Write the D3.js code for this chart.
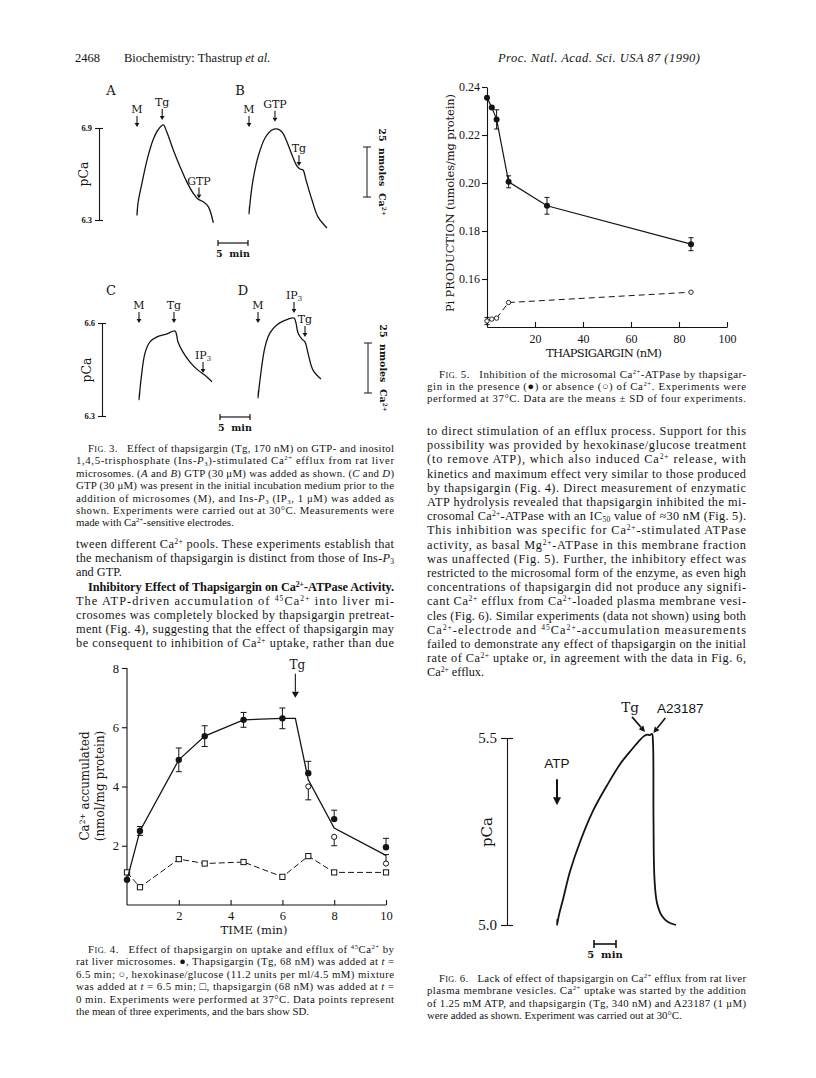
<!DOCTYPE html>
<meta charset="utf-8">
<style>
  body { margin: 0; background: #fff; }
  svg text { font-family: "Liberation Serif", "Times New Roman", serif; fill: #141414; white-space: pre; }
  .fig { font-family: "DejaVu Serif", serif; }
  .sans { font-family: "Liberation Sans", Arial, sans-serif; }
  .axis path, .axis line { stroke: #141414; stroke-width: 1.1; }
  .axis text { fill: #141414; }
</style>
<script src="https://d3js.org/d3.v7.min.js"></script>
<body></body>
<script>
// ------------------------------------------------------------------
// data
// Fig. 3 electrode traces: minutes after microsomes (M) were added, pCa
var traceA_t = [0.08, 0, 0.17, 0.83, 1.67, 2.67, 3.5, 4.38, 4.95, 6.05, 7.17, 8.28, 9.38, 10.22, 11.05, 11.88, 12.72];
var traceA_p = [6.372, 6.333, 6.411, 6.541, 6.691, 6.822, 6.887, 6.920, 6.876, 6.757, 6.648, 6.550, 6.474, 6.435, 6.419, 6.387, 6.282];
var traceB_t = [0.08, 0, 0.17, 0.67, 1.5, 2.67, 3.83, 4.67, 5.5, 6.33, 7.17, 8.0, 8.5, 9.0, 9.5, 10.5, 11.5, 13.0];
var traceB_p = [6.385, 6.339, 6.411, 6.561, 6.711, 6.835, 6.887, 6.894, 6.874, 6.809, 6.724, 6.652, 6.633, 6.626, 6.561, 6.430, 6.320, 6.248];
var traceC_t = [0.08, 0, 0.33, 1.0, 1.83, 3.0, 4.67, 6.0, 6.5, 7.33, 8.5, 9.83, 11.33, 12.17];
var traceC_p = [6.374, 6.352, 6.416, 6.503, 6.539, 6.555, 6.565, 6.574, 6.539, 6.506, 6.474, 6.448, 6.426, 6.410];
var traceD_t = [0.08, 0, 0.33, 1.17, 2.0, 3.17, 4.17, 6.0, 6.33, 6.67, 7.33, 7.83, 8.33, 9.17, 10.5];
var traceD_p = [6.381, 6.358, 6.416, 6.523, 6.568, 6.594, 6.606, 6.616, 6.600, 6.568, 6.548, 6.539, 6.503, 6.448, 6.419];
// additions: [label, time, pCa at arrow tip]
var eventsA = [["M", 0, 6.907], ["Tg", 4.2, 6.952], ["GTP", 10.33, 6.44]];
var eventsB = [["M", 0, 6.907], ["GTP", 4.33, 6.94], ["Tg", 8.33, 6.652]];
var eventsC = [["M", 0, 6.6], ["Tg", 5.83, 6.6], ["IP_{3}", 10.67, 6.439]];
var eventsD = [["M", 0, 6.6], ["IP_{3}", 6.0, 6.632], ["Tg", 7.83, 6.555]];
var pcaTicksAB = [6.3, 6.9];
var pcaTicksCD = [6.3, 6.6];

// Fig. 4 Ca2+ accumulated (nmol/mg protein) vs time (min)
var fig4Time = [0, 0.5, 2, 3, 4.5, 6, 7, 8, 10];
var fig4TgMean = [0.85, 2.5, 4.9, 5.7, 6.25, 6.3, 4.45, 2.9, 1.95];
var fig4TgSD = [0, 0.15, 0.4, 0.35, 0.25, 0.35, 0.4, 0.3, 0.3];
var fig4HkTime = [7, 8, 10];
var fig4HkMean = [4.0, 2.3, 1.4];
var fig4HkSD = [-0.45, -0.3, 0.3];
var fig4CtrlMean = [1.1, 0.6, 1.55, 1.4, 1.45, 0.95, 1.65, 1.1, 1.1];
var fig4TgAdded = 6.5;
var fig4XTicks = [2, 4, 6, 8, 10];
var fig4YTicks = [2, 4, 6, 8];

// Fig. 5 Pi production (umoles/mg protein) vs thapsigargin (nM)
var fig5Conc = [0, 2, 4, 9, 25, 85];
var fig5WithCa = [0.2355, 0.2315, 0.2265, 0.2005, 0.1905, 0.1745];
var fig5WithCaSD = [0, 0, 0.004, 0.0025, 0.0035, 0.0027];
var fig5ConcNoCa = [0, 2, 4, 9, 85];
var fig5NoCa = [0.1425, 0.1433, 0.1437, 0.1502, 0.1545];
var fig5NoCaSD = [0.0015, 0, 0, 0, 0];
var fig5XTicks = [20, 40, 60, 80, 100];
var fig5YTicks = [0.16, 0.18, 0.20, 0.22, 0.24];

// Fig. 6 plasma membrane vesicles, minutes after ATP, pCa
var fig6_t = [0.11, 0, 0.45, 1.36, 2.95, 5.23, 8.18, 11.36, 14.32, 17.05, 18.86, 19.77, 20.45, 21.14, 21.59, 21.82, 21.93, 22.16, 22.73, 23.86, 25.23, 27.05];
var fig6_p = [5.016, 5.0, 5.027, 5.068, 5.143, 5.222, 5.305, 5.373, 5.430, 5.470, 5.495, 5.505, 5.509, 5.508, 5.511, 5.486, 5.284, 5.122, 5.059, 5.024, 5.008, 5.0];
var fig6Ticks = [5.0, 5.5];
var fig6Tg = [20.0, 5.511];
var fig6A23187 = [21.9, 5.508];
var fig6ATP = [0, 5.32];

// ------------------------------------------------------------------
// page text  (^{} sup, _{} sub, *italic*, %small caps%, leading ">" indent, trailing "|" ragged)
var fig3Caption = [
  ">F%IG.% 3.   Effect of thapsigargin (Tg, 170 nM) on GTP- and inositol",
  "1,4,5-trisphosphate (Ins-*P*_{3})-stimulated Ca^{2+} efflux from rat liver",
  "microsomes. (*A* and *B*) GTP (30 μM) was added as shown. (*C* and *D*)",
  "GTP (30 μM) was present in the initial incubation medium prior to the",
  "addition of microsomes (M), and Ins-*P*_{3} (IP_{3}, 1 μM) was added as",
  "shown. Experiments were carried out at 30°C. Measurements were",
  "made with Ca^{2+}-sensitive electrodes.|"
];
var leftBody = [
  "tween different Ca^{2+} pools. These experiments establish that",
  "the mechanism of thapsigargin is distinct from those of Ins-*P*_{3}",
  "and GTP.|",
  ">#Inhibitory Effect of Thapsigargin on Ca^{2+}-ATPase Activity.",
  "The ATP-driven accumulation of ^{45}Ca^{2+} into liver mi-",
  "crosomes was completely blocked by thapsigargin pretreat-",
  "ment (Fig. 4), suggesting that the effect of thapsigargin may",
  "be consequent to inhibition of Ca^{2+} uptake, rather than due"
];
var fig4Caption = [
  ">F%IG.% 4.   Effect of thapsigargin on uptake and efflux of ^{45}Ca^{2+} by",
  "rat liver microsomes. ●, Thapsigargin (Tg, 68 nM) was added at *t* =",
  "6.5 min; ○, hexokinase/glucose (11.2 units per ml/4.5 mM) mixture",
  "was added at *t* = 6.5 min; □, thapsigargin (68 nM) was added at *t* =",
  "0 min. Experiments were performed at 37°C. Data points represent",
  "the mean of three experiments, and the bars show SD.|"
];
var fig5Caption = [
  ">F%IG.% 5.   Inhibition of the microsomal Ca^{2+}-ATPase by thapsigar-",
  "gin in the presence (●) or absence (○) of Ca^{2+}. Experiments were",
  "performed at 37°C. Data are the means ± SD of four experiments."
];
var rightBody = [
  "to direct stimulation of an efflux process. Support for this",
  "possibility was provided by hexokinase/glucose treatment",
  "(to remove ATP), which also induced Ca^{2+} release, with",
  "kinetics and maximum effect very similar to those produced",
  "by thapsigargin (Fig. 4). Direct measurement of enzymatic",
  "ATP hydrolysis revealed that thapsigargin inhibited the mi-",
  "crosomal Ca^{2+}-ATPase with an IC_{50} value of ≈30 nM (Fig. 5).",
  "This inhibition was specific for Ca^{2+}-stimulated ATPase",
  "activity, as basal Mg^{2+}-ATPase in this membrane fraction",
  "was unaffected (Fig. 5). Further, the inhibitory effect was",
  "restricted to the microsomal form of the enzyme, as even high",
  "concentrations of thapsigargin did not produce any signifi-",
  "cant Ca^{2+} efflux from Ca^{2+}-loaded plasma membrane vesi-",
  "cles (Fig. 6). Similar experiments (data not shown) using both",
  "Ca^{2+}-electrode and ^{45}Ca^{2+}-accumulation measurements",
  "failed to demonstrate any effect of thapsigargin on the initial",
  "rate of Ca^{2+} uptake or, in agreement with the data in Fig. 6,",
  "Ca^{2+} efflux.|"
];
var fig6Caption = [
  ">F%IG.% 6.   Lack of effect of thapsigargin on Ca^{2+} efflux from rat liver",
  "plasma membrane vesicles. Ca^{2+} uptake was started by the addition",
  "of 1.25 mM ATP, and thapsigargin (Tg, 340 nM) and A23187 (1 μM)",
  "were added as shown. Experiment was carried out at 30°C.|"
];

// ------------------------------------------------------------------
var svg = d3.select("body").append("svg")
    .attr("width", 816)
    .attr("height", 1078)
    .style("background", "#fff");

function rich(t, str, size) {
  str.split(/(\^\{[^}]*\}|_\{[^}]*\}|\*[^*]+\*|%[^%]+%)/).forEach(function (p) {
    if (!p) return;
    var s = t.append("tspan");
    if (p.slice(0, 2) === "^{") {
      s.text(p.slice(2, -1)).attr("font-size", size * 0.62).attr("baseline-shift", (size * 0.34) + "px");
    } else if (p.slice(0, 2) === "_{") {
      s.text(p.slice(2, -1)).attr("font-size", size * 0.62).attr("baseline-shift", (-size * 0.16) + "px");
    } else if (p[0] === "*") {
      s.text(p.slice(1, -1)).attr("font-style", "italic");
    } else if (p[0] === "%") {
      s.text(p.slice(1, -1)).attr("font-size", size * 0.76);
    } else {
      s.text(p);
    }
  });
}

function block(x, y0, lh, width, size, lines) {
  lines.forEach(function (ln, i) {
    var indent = 0, bold = false, ragged = false;
    if (ln[0] === ">") { indent = 12; ln = ln.slice(1); }
    if (ln[0] === "#") { bold = true; ln = ln.slice(1); }
    if (ln[ln.length - 1] === "|") { ragged = true; ln = ln.slice(0, -1); }
    var t = svg.append("text")
        .attr("x", x + indent)
        .attr("y", y0 + i * lh)
        .attr("font-size", size);
    if (bold) t.attr("font-weight", "bold");
    rich(t, ln, size);
    if (!ragged) t.attr("textLength", width - indent).attr("lengthAdjust", "spacing");
  });
}

// running head
svg.append("text").attr("x", 75).attr("y", 62).attr("font-size", 12.5).text("2468");
rich(svg.append("text").attr("x", 124).attr("y", 62).attr("font-size", 12.5), "Biochemistry: Thastrup *et al.*", 12.5);
svg.append("text").attr("x", 498).attr("y", 62).attr("font-size", 12.5)
    .attr("font-style", "italic").attr("textLength", 202).text("Proc. Natl. Acad. Sci. USA 87 (1990)");

// text columns
block(76, 452, 12.4, 318, 10.8, fig3Caption);
block(76, 548, 14.2, 318, 12.3, leftBody);
block(76, 953, 12.4, 318, 10.8, fig4Caption);
block(427, 378, 12.2, 319, 10.8, fig5Caption);
block(427, 435, 14.2, 319, 12.3, rightBody);
block(427, 982, 12.4, 319, 10.8, fig6Caption);

// ------------------------------------------------------------------
// Fig. 3
function downArrow(g, x, yTip, len, head) {
  g.append("line").attr("x1", x).attr("x2", x).attr("y1", yTip - len).attr("y2", yTip - head)
      .attr("stroke", "#141414").attr("stroke-width", 1.1);
  g.append("path")
      .attr("d", "M" + (x - head * 0.6) + "," + (yTip - head) + "L" + (x + head * 0.6) + "," + (yTip - head) + "L" + x + "," + yTip + "Z")
      .attr("fill", "#141414");
}

function capAxis(g, scale, x, ticks, fmt, fs) {
  var ax = g.append("g").attr("class", "axis fig")
      .attr("transform", "translate(" + x + ",0)")
      .call(d3.axisLeft(scale).tickValues(ticks).tickFormat(fmt).tickSize(4).tickSizeOuter(0).tickPadding(3));
  ax.selectAll(".tick line").attr("x1", 4);
  ax.selectAll(".tick text").attr("font-size", fs).attr("font-weight", "bold").attr("font-family", "DejaVu Serif, serif");
  return ax;
}

var panels = [
  { id: "A", t: traceA_t, p: traceA_p, ev: eventsA, x0: 137, top: 128, bot: 220, dom: [6.3, 6.9], lx: 111, ly: 95 },
  { id: "B", t: traceB_t, p: traceB_p, ev: eventsB, x0: 249, top: 128, bot: 220, dom: [6.3, 6.9], lx: 240, ly: 95 },
  { id: "C", t: traceC_t, p: traceC_p, ev: eventsC, x0: 139, top: 323, bot: 416, dom: [6.3, 6.6], lx: 111, ly: 295 },
  { id: "D", t: traceD_t, p: traceD_p, ev: eventsD, x0: 258, top: 323, bot: 416, dom: [6.3, 6.6], lx: 243, ly: 295 }
];

panels.forEach(function (pn) {
  var g = svg.append("g");
  var x = d3.scaleLinear().domain([0, 5]).range([pn.x0, pn.x0 + 30]);
  var y = d3.scaleLinear().domain(pn.dom).range([pn.bot, pn.top]);
  var line = d3.line()
      .x(function (d) { return x(d[0]); })
      .y(function (d) { return y(d[1]); })
      .curve(d3.curveCatmullRom.alpha(0.5));
  g.append("path")
      .datum(d3.zip(pn.t, pn.p))
      .attr("d", line)
      .attr("fill", "none").attr("stroke", "#141414").attr("stroke-width", 1.3);
  g.append("text").attr("class", "fig").attr("x", pn.lx).attr("y", pn.ly)
      .attr("text-anchor", "middle").attr("font-size", 13).text(pn.id);
  pn.ev.forEach(function (e) {
    var ex = x(e[1]), ey = y(e[2]);
    downArrow(g, ex, ey, 11, 4);
    var t = g.append("text").attr("class", "fig").attr("x", ex).attr("y", ey - 14)
        .attr("text-anchor", "middle").attr("font-size", 11);
    rich(t, e[0], 11);
  });
  pn.x = x; pn.y = y;
});

// pCa axes (left) and 25 nmol bars (right)
[[panels[0], pcaTicksAB, 99, 174], [panels[2], pcaTicksCD, 102, 370]].forEach(function (a) {
  var pn = a[0];
  capAxis(svg, pn.y, a[2], a[1], d3.format(".1f"), 8.5);
  svg.append("text").attr("class", "fig").attr("font-size", 12.5)
      .attr("transform", "translate(" + (a[2] - 11) + "," + a[3] + ") rotate(-90)")
      .attr("text-anchor", "middle").text("pCa");
});
[[367, 147, 197], [368, 343, 393]].forEach(function (b) {
  var g = svg.append("g");
  g.append("line").attr("x1", b[0]).attr("x2", b[0]).attr("y1", b[1]).attr("y2", b[2]).attr("stroke", "#141414");
  g.append("line").attr("x1", b[0] - 4).attr("x2", b[0] + 4).attr("y1", b[1]).attr("y2", b[1]).attr("stroke", "#141414");
  g.append("line").attr("x1", b[0] - 4).attr("x2", b[0] + 4).attr("y1", b[2]).attr("y2", b[2]).attr("stroke", "#141414");
  var t = g.append("text").attr("class", "fig").attr("font-size", 9.5).attr("font-weight", "bold")
      .attr("text-anchor", "middle")
      .attr("transform", "translate(" + (b[0] + 12) + "," + (b[1] + b[2]) / 2 + ") rotate(90)");
  rich(t, "25  nmoles  Ca^{2+}", 9.5);
});

// 5 min bars
function minuteBar(x0, y0, len, label, fs) {
  var g = svg.append("g").attr("stroke", "#141414").attr("stroke-width", 1.2);
  g.append("line").attr("x1", x0).attr("x2", x0 + len).attr("y1", y0).attr("y2", y0);
  g.append("line").attr("x1", x0).attr("x2", x0).attr("y1", y0 - 3).attr("y2", y0 + 3);
  g.append("line").attr("x1", x0 + len).attr("x2", x0 + len).attr("y1", y0 - 3).attr("y2", y0 + 3);
  svg.append("text").attr("class", "fig").attr("x", x0 + len / 2).attr("y", y0 + 14)
      .attr("text-anchor", "middle").attr("font-size", fs).attr("font-weight", "bold").text(label);
}
minuteBar(218, 243, panels[0].x(5) - panels[0].x(0), "5  min", 9.5);
minuteBar(220, 417, panels[2].x(5) - panels[2].x(0), "5  min", 9.5);

// ------------------------------------------------------------------
// Fig. 4
(function () {
  var x = d3.scaleLinear().domain([0, 10]).range([127, 386]);
  var y = d3.scaleLinear().domain([0, 8]).range([905, 668]);
  var g = svg.append("g");

  var ya = g.append("g").attr("class", "axis sans").attr("transform", "translate(127,0)")
      .call(d3.axisLeft(y).tickValues(fig4YTicks).tickFormat(d3.format("d")).tickSize(5).tickSizeOuter(0).tickPadding(3));
  ya.selectAll("text").attr("font-size", 12.5).attr("font-family", "Liberation Sans, Arial, sans-serif");
  var xa = g.append("g").attr("class", "axis sans").attr("transform", "translate(0," + y(0) + ")")
      .call(d3.axisBottom(x).tickValues(fig4XTicks).tickFormat(d3.format("d")).tickSizeInner(-5).tickSizeOuter(0).tickPadding(6));
  xa.selectAll("text").attr("font-size", 12.5).attr("font-family", "Liberation Sans, Arial, sans-serif");
  ya.select(".domain").attr("d", "M0," + y(8) + "V" + y(0));
  xa.select(".domain").attr("d", "M" + x(0) + ",0H" + x(10));

  // control (Tg at t = 0), dashed with squares
  var ctrl = d3.zip(fig4Time, fig4CtrlMean);
  g.append("path").datum(ctrl)
      .attr("d", d3.line().x(function (d) { return x(d[0]); }).y(function (d) { return y(d[1]); }))
      .attr("fill", "none").attr("stroke", "#141414").attr("stroke-width", 1).attr("stroke-dasharray", "6,3");
  g.selectAll(".sq").data(ctrl).enter().append("rect")
      .attr("x", function (d) { return x(d[0]) - 2.6; }).attr("y", function (d) { return y(d[1]) - 2.6; })
      .attr("width", 5.2).attr("height", 5.2).attr("fill", "#fff").attr("stroke", "#141414").attr("stroke-width", 1);

  // solid curve: Tg data up to the addition, then mean of both treatments
  var curve = [];
  fig4Time.forEach(function (t, i) { if (t <= fig4TgAdded) curve.push([t, fig4TgMean[i]]); });
  curve.push([fig4TgAdded, fig4TgMean[fig4Time.indexOf(6)]]);
  fig4HkTime.forEach(function (t, i) {
    curve.push([t, (fig4TgMean[fig4Time.indexOf(t)] + fig4HkMean[i]) / 2]);
  });
  g.append("path").datum(curve)
      .attr("d", d3.line().x(function (d) { return x(d[0]); }).y(function (d) { return y(d[1]); }))
      .attr("fill", "none").attr("stroke", "#141414").attr("stroke-width", 1.3);

  function errBar(t, v, sd) {
    if (!sd) return;
    var both = sd > 0 && fig4HkTime.indexOf(t) < 0;
    var y2 = y(v + sd);
    g.append("line").attr("x1", x(t)).attr("x2", x(t)).attr("y1", y(v - (both ? sd : 0))).attr("y2", y2)
        .attr("stroke", "#141414").attr("stroke-width", 1);
    g.append("line").attr("x1", x(t) - 3).attr("x2", x(t) + 3).attr("y1", y2).attr("y2", y2).attr("stroke", "#141414");
    if (both) {
      var y3 = y(v - sd);
      g.append("line").attr("x1", x(t) - 3).attr("x2", x(t) + 3).attr("y1", y3).attr("y2", y3).attr("stroke", "#141414");
    }
  }
  fig4Time.forEach(function (t, i) { errBar(t, fig4TgMean[i], fig4TgSD[i]); });
  fig4HkTime.forEach(function (t, i) { errBar(t, fig4HkMean[i], fig4HkSD[i]); });

  g.selectAll(".hk").data(d3.zip(fig4HkTime, fig4HkMean)).enter().append("circle")
      .attr("cx", function (d) { return x(d[0]); }).attr("cy", function (d) { return y(d[1]); })
      .attr("r", 2.6).attr("fill", "#fff").attr("stroke", "#141414").attr("stroke-width", 1);
  g.selectAll(".tg").data(d3.zip(fig4Time, fig4TgMean)).enter().append("circle")
      .attr("cx", function (d) { return x(d[0]); }).attr("cy", function (d) { return y(d[1]); })
      .attr("r", 3.2).attr("fill", "#141414");

  // Tg addition arrow
  var ax = x(fig4TgAdded), tip = y(7.0);
  downArrow(g, ax, tip, 24, 6);
  g.append("text").attr("class", "fig").attr("x", ax + 2).attr("y", tip - 29)
      .attr("text-anchor", "middle").attr("font-size", 12).text("Tg");

  var yl = g.append("text").attr("class", "fig").attr("font-size", 12)
      .attr("text-anchor", "middle").attr("transform", "translate(89,786) rotate(-90)");
  rich(yl, "Ca^{2+} accumulated", 12);
  g.append("text").attr("class", "fig").attr("font-size", 12)
      .attr("text-anchor", "middle").attr("transform", "translate(104,786) rotate(-90)")
      .text("(nmol/mg protein)");
  g.append("text").attr("class", "fig").attr("font-size", 11.5)
      .attr("text-anchor", "middle").attr("x", 254).attr("y", 934).text("TIME (min)");
})();

// ------------------------------------------------------------------
// Fig. 5
(function () {
  var x = d3.scaleLinear().domain([0, 100]).range([487, 727]);
  var y = d3.scaleLinear().domain([0.14, 0.24]).range([327, 87]);
  var g = svg.append("g");

  var ya = g.append("g").attr("class", "axis").attr("transform", "translate(487,0)")
      .call(d3.axisLeft(y).tickValues(fig5YTicks).tickFormat(d3.format(".2f")).tickSize(5).tickSizeOuter(0).tickPadding(2));
  ya.selectAll("text").attr("font-size", 12).attr("font-family", "Liberation Sans, Arial, sans-serif");
  var xa = g.append("g").attr("class", "axis").attr("transform", "translate(0,327)")
      .call(d3.axisBottom(x).tickValues(fig5XTicks).tickFormat(d3.format("d")).tickSizeInner(-5).tickSizeOuter(0).tickPadding(7));
  xa.selectAll("text").attr("font-size", 12).attr("font-family", "Liberation Sans, Arial, sans-serif");

  var lineFn = d3.line().x(function (d) { return x(d[0]); }).y(function (d) { return y(d[1]); });
  var noCa = d3.zip(fig5ConcNoCa, fig5NoCa);
  var withCa = d3.zip(fig5Conc, fig5WithCa);
  g.append("path").datum(noCa).attr("d", lineFn)
      .attr("fill", "none").attr("stroke", "#141414").attr("stroke-width", 1).attr("stroke-dasharray", "6,4");
  g.append("path").datum(withCa).attr("d", lineFn)
      .attr("fill", "none").attr("stroke", "#141414").attr("stroke-width", 1.2);
  function sdBar(c, v, sd) {
    if (!sd) return;
    var cx = x(c), a = y(v + sd), b = y(v - sd);
    g.append("line").attr("x1", cx).attr("x2", cx).attr("y1", a).attr("y2", b).attr("stroke", "#141414");
    g.append("line").attr("x1", cx - 2.5).attr("x2", cx + 2.5).attr("y1", a).attr("y2", a).attr("stroke", "#141414");
    g.append("line").attr("x1", cx - 2.5).attr("x2", cx + 2.5).attr("y1", b).attr("y2", b).attr("stroke", "#141414");
  }
  fig5Conc.forEach(function (c, i) { sdBar(c, fig5WithCa[i], fig5WithCaSD[i]); });
  fig5ConcNoCa.forEach(function (c, i) { sdBar(c, fig5NoCa[i], fig5NoCaSD[i]); });
  g.selectAll(".o").data(noCa).enter().append("circle")
      .attr("cx", function (d) { return x(d[0]); }).attr("cy", function (d) { return y(d[1]); })
      .attr("r", 2.2).attr("fill", "#fff").attr("stroke", "#141414").attr("stroke-width", 0.9);
  g.selectAll(".f").data(withCa).enter().append("circle")
      .attr("cx", function (d) { return x(d[0]); }).attr("cy", function (d) { return y(d[1]); })
      .attr("r", 3).attr("fill", "#141414");

  g.append("text").attr("class", "fig").attr("font-size", 11.5)
      .attr("transform", "translate(454,312) rotate(-90)")
      .attr("textLength", 218).attr("lengthAdjust", "spacing")
      .text("Pi PRODUCTION (umoles/mg protein)");
  g.append("text").attr("class", "fig").attr("font-size", 11.5)
      .attr("x", 546).attr("y", 357).attr("textLength", 116).attr("lengthAdjust", "spacing")
      .text("THAPSIGARGIN (nM)");
})();

// ------------------------------------------------------------------
// Fig. 6
(function () {
  var x = d3.scaleLinear().domain([0, 5]).range([557, 579]);
  var y = d3.scaleLinear().domain([5.0, 5.5]).range([925, 738]);
  var g = svg.append("g");

  var ya = g.append("g").attr("class", "axis").attr("transform", "translate(507,0)")
      .call(d3.axisLeft(y).tickValues(fig6Ticks).tickFormat(d3.format(".1f")).tickSize(6).tickSizeOuter(0).tickPadding(4));
  ya.selectAll("path, line").attr("stroke-width", 2);
  ya.selectAll(".tick line").attr("x1", 6);
  ya.selectAll("text").attr("font-size", 15).attr("font-family", "Liberation Sans, Arial, sans-serif");

  g.append("path")
      .datum(d3.zip(fig6_t, fig6_p))
      .attr("d", d3.line().x(function (d) { return x(d[0]); }).y(function (d) { return y(d[1]); })
          .curve(d3.curveCatmullRom.alpha(0.5)))
      .attr("fill", "none").attr("stroke", "#141414").attr("stroke-width", 1.8);

  // ATP arrow
  var ax = x(fig6ATP[0]), at = y(fig6ATP[1]);
  g.append("line").attr("x1", ax).attr("x2", ax).attr("y1", at - 26).attr("y2", at - 6)
      .attr("stroke", "#141414").attr("stroke-width", 2);
  g.append("path").attr("d", "M" + (ax - 4) + "," + (at - 8) + "L" + (ax + 4) + "," + (at - 8) + "L" + ax + "," + at + "Z")
      .attr("fill", "#141414");
  g.append("text").attr("class", "sans").attr("font-size", 13.5).attr("text-anchor", "middle")
      .attr("x", ax).attr("y", at - 37).text("ATP");

  // Tg and A23187 arrows (diagonal)
  function diag(pt, dx, label, cls, lx) {
    var tx = x(pt[0]), ty = y(pt[1]) - 2;
    var sx = tx + dx, sy = ty - 15;
    var ang = Math.atan2(ty - sy, tx - sx);
    var hx = tx - 6 * Math.cos(ang), hy = ty - 6 * Math.sin(ang);
    g.append("line").attr("x1", sx).attr("y1", sy).attr("x2", hx).attr("y2", hy)
        .attr("stroke", "#141414").attr("stroke-width", 1.6);
    var px = -Math.sin(ang) * 3, py = Math.cos(ang) * 3;
    g.append("path").attr("d", "M" + (hx + px) + "," + (hy + py) + "L" + (hx - px) + "," + (hy - py) + "L" + tx + "," + ty + "Z")
        .attr("fill", "#141414");
    g.append("text").attr("class", cls).attr("font-size", 13.5).attr("text-anchor", "middle")
        .attr("x", lx).attr("y", sy - 5).text(label);
  }
  diag(fig6Tg, -13, "Tg", "fig", x(fig6Tg[0]) - 15);
  diag(fig6A23187, 12, "A23187", "sans", x(fig6A23187[0]) + 27);

  g.append("text").attr("class", "fig").attr("font-size", 15)
      .attr("text-anchor", "middle").attr("transform", "translate(492,832) rotate(-90)").text("pCa");

  var barLen = x(5) - x(0);
  var bg = g.append("g").attr("stroke", "#141414").attr("stroke-width", 1.6);
  bg.append("line").attr("x1", 594).attr("x2", 594 + barLen).attr("y1", 944).attr("y2", 944);
  bg.append("line").attr("x1", 594).attr("x2", 594).attr("y1", 940).attr("y2", 948);
  bg.append("line").attr("x1", 594 + barLen).attr("x2", 594 + barLen).attr("y1", 940).attr("y2", 948);
  g.append("text").attr("class", "fig").attr("font-size", 10).attr("font-weight", "bold")
      .attr("text-anchor", "middle").attr("x", 594 + barLen / 2).attr("y", 958).text("5  min");
})();
</script>
